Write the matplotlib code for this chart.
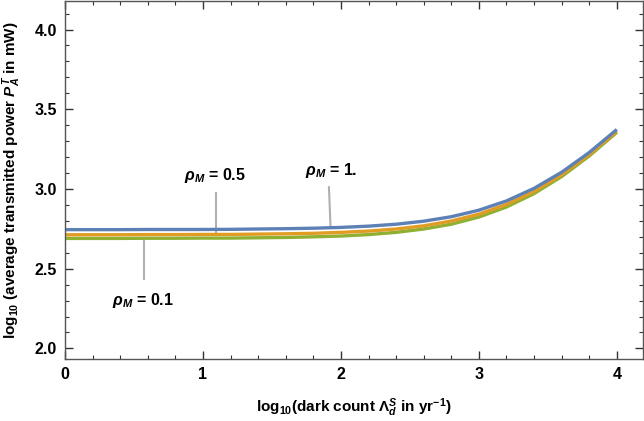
import numpy as np
import matplotlib
matplotlib.use("Agg")
import matplotlib.pyplot as plt
from matplotlib.ticker import MultipleLocator

plt.rcParams['font.family'] = 'Liberation Sans'
plt.rcParams['font.weight'] = 'bold'
plt.rcParams['mathtext.fontset'] = 'custom'
plt.rcParams['mathtext.rm'] = 'Liberation Sans:bold'
plt.rcParams['mathtext.it'] = 'Liberation Sans:italic:bold'
plt.rcParams['mathtext.bf'] = 'Liberation Sans:bold'

# log10 dark count
x = [0.0, 0.2, 0.4, 0.6, 0.8, 1.0, 1.2, 1.4, 1.6, 1.8, 2.0,
     2.2, 2.4, 2.6, 2.8, 3.0, 3.2, 3.4, 3.6, 3.8, 4.0]
# log10 transmitted power, one series per rho_M
rho_1 = [2.745, 2.745, 2.745, 2.746, 2.746, 2.746, 2.747, 2.749, 2.751, 2.754, 2.759,
         2.767, 2.779, 2.798, 2.826, 2.867, 2.925, 3.004, 3.105, 3.229, 3.373]
rho_05 = [2.713, 2.713, 2.713, 2.714, 2.714, 2.715, 2.715, 2.717, 2.719, 2.722, 2.728,
          2.736, 2.749, 2.769, 2.799, 2.842, 2.903, 2.985, 3.089, 3.216, 3.362]
rho_01 = [2.690, 2.690, 2.690, 2.691, 2.691, 2.692, 2.692, 2.694, 2.696, 2.700, 2.705,
          2.714, 2.728, 2.749, 2.779, 2.824, 2.887, 2.971, 3.078, 3.207, 3.355]

labels = [r'$\rho_M$ = 1.', r'$\rho_M$ = 0.5', r'$\rho_M$ = 0.1']
colors = ['#5E81B5', '#E19C24', '#8FB032']

fig = plt.figure(figsize=(6.44, 4.21), dpi=100)
ax = fig.add_axes([0.101, 0.147, 0.8975, 0.851])

for ys, c in zip([rho_01, rho_05, rho_1], colors[::-1]):
    ax.plot(x, ys, color=c, lw=2.4, solid_capstyle='butt')

# callouts: (label, text position, line start, line end)
callouts = [
    (labels[1], (1.087, 3.086), (1.092, 2.974), (1.092, 2.716)),
    (labels[0], (1.93, 3.118), (1.913, 3.011), (1.925, 2.758)),
    (labels[2], (0.565, 2.303), (0.570, 2.435), (0.570, 2.690)),
]
for txt, tpos, p0, p1 in callouts:
    ax.plot([p0[0], p1[0]], [p0[1], p1[1]], color='#b0b0b0', lw=1.5, zorder=1)
    ax.text(tpos[0], tpos[1], txt, ha='center', va='center', fontsize=11.5,
            fontweight='bold')

ax.set_xlim(0, 4.19)
ax.set_ylim(1.933, 4.18)
ax.xaxis.set_major_locator(MultipleLocator(1))
ax.xaxis.set_minor_locator(MultipleLocator(0.2))
ax.yaxis.set_major_locator(MultipleLocator(0.5))
ax.yaxis.set_minor_locator(MultipleLocator(0.1))
ax.xaxis.set_major_formatter(plt.FuncFormatter(lambda v, p: '%d' % v))
ax.yaxis.set_major_formatter(plt.FuncFormatter(lambda v, p: '%.1f' % v))

for s in ax.spines.values():
    s.set_color('#555555')
    s.set_linewidth(1.0)
ax.tick_params(which='both', direction='in', top=True, right=True,
               color='#333333', labelsize=11.5, pad=6)
ax.tick_params(which='major', length=6, width=1.0)
ax.tick_params(which='minor', length=3, width=0.8)
for lab in ax.get_xticklabels() + ax.get_yticklabels():
    lab.set_fontweight('bold')

ax.set_xlabel(r'log$_{10}$(dark count $\Lambda_{d}^{S}$ in yr$^{-1}$)',
              fontsize=11, fontweight='bold', labelpad=10)
ax.set_ylabel(r'log$_{10}$ (average transmitted power $P_{A}^{T}$ in mW)',
              fontsize=11, fontweight='bold', labelpad=8)

fig.savefig('out.png', dpi=100)
